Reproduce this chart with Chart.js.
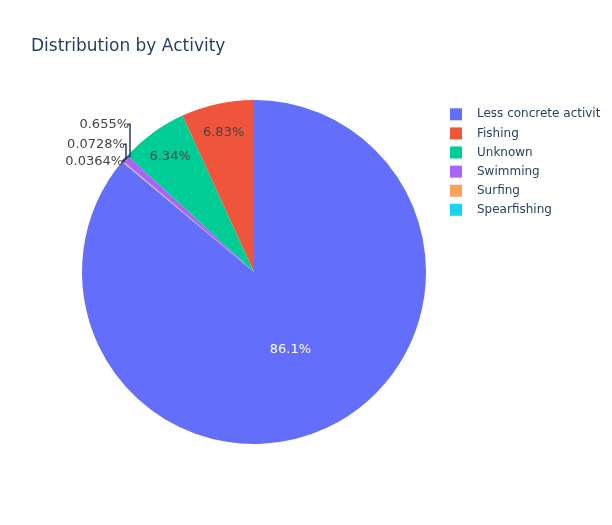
<!DOCTYPE html>
<html>
<head>
<meta charset="utf-8">
<script src="https://cdn.jsdelivr.net/npm/chart.js@4/dist/chart.umd.min.js"></script>
<style>
  body { margin: 0; background: #fff; }
  #wrap { width: 612px; height: 525px; position: relative; }
</style>
</head>
<body>
<div id="wrap"><canvas id="activity-pie"></canvas></div>
<script>
// legend order (as in the reference)
const activities = ['Less concrete activity', 'Fishing', 'Unknown', 'Swimming', 'Surfing', 'Spearfishing'];
const sharePct = [86.1, 6.83, 6.34, 0.655, 0.0728, 0.0364];
const pctLabels = ['86.1%', '6.83%', '6.34%', '0.655%', '0.0728%', '0.0364%'];
const colours = ['#636efa', '#ef553b', '#00cc96', '#ab63fa', '#ffa15a', '#19d3f3'];

// drawing order clockwise from 12 o'clock
const drawOrder = [0, 5, 4, 3, 2, 1];
const outsideSet = [3, 4, 5];

const pieData = drawOrder.map(i => sharePct[i]);
const pieColours = drawOrder.map(i => colours[i]);

const txtColour = '#2a3f5f';
const fontName = '"DejaVu Sans", Verdana, sans-serif';

const labelsPlugin = {
    id: 'pieText',
    afterDatasetsDraw(chart) {
        const ctx = chart.ctx;
        const arcs = chart.getDatasetMeta(0).data;
        ctx.save();
        ctx.font = '13px ' + fontName;
        ctx.textBaseline = 'middle';
        let stack = 0;
        arcs.forEach((arc, k) => {
            const i = drawOrder[k];
            const p = arc.getProps(['x', 'y', 'startAngle', 'endAngle', 'outerRadius'], true);
            const mid = (p.startAngle + p.endAngle) / 2;
            if (outsideSet.includes(i)) {
                const ex = p.x + Math.cos(mid) * p.outerRadius;
                const ey = p.y + Math.sin(mid) * p.outerRadius;
                const ly = ey - stack * 17;
                const lx = ex + 2 + stack * 1.5;
                ctx.strokeStyle = txtColour;
                ctx.lineWidth = 1.5;
                ctx.beginPath();
                ctx.moveTo(ex, ey);
                ctx.lineTo(lx, ey - 2);
                ctx.lineTo(lx, ly);
                ctx.lineTo(lx - 2, ly);
                ctx.stroke();
                ctx.fillStyle = '#444';
                ctx.textAlign = 'right';
                ctx.fillText(pctLabels[i], lx - 1, ly);
                stack++;
            } else {
                const f = i === 0 ? 0.5 : 0.83;
                ctx.fillStyle = i === 0 ? '#ffffff' : '#444';
                ctx.textAlign = 'center';
                ctx.fillText(pctLabels[i], p.x + Math.cos(mid) * p.outerRadius * f,
                                           p.y + Math.sin(mid) * p.outerRadius * f);
            }
        });
        ctx.restore();
    },
    afterDraw(chart) {
        const ctx = chart.ctx;
        ctx.save();
        // title
        ctx.fillStyle = txtColour;
        ctx.font = '17px ' + fontName;
        ctx.textAlign = 'left';
        ctx.textBaseline = 'alphabetic';
        ctx.fillText('Distribution by Activity', 31, 51);
        // legend (text clipped at the right edge like the reference)
        ctx.beginPath();
        ctx.rect(440, 95, 160, 140);
        ctx.clip();
        ctx.font = '12px ' + fontName;
        ctx.textBaseline = 'middle';
        activities.forEach((name, i) => {
            const y = 114.3 + i * 19.1;
            ctx.fillStyle = colours[i];
            ctx.fillRect(450, y - 6, 12, 12);
            ctx.fillStyle = txtColour;
            ctx.fillText(name, 477, y);
        });
        ctx.restore();
    }
};

const ctx_pie = document.getElementById('activity-pie').getContext('2d');
const activityChart = new Chart(ctx_pie, {
    type: 'pie',
    data: {
        labels: drawOrder.map(i => activities[i]),
        datasets: [{
            data: pieData,
            backgroundColor: pieColours,
            borderWidth: 0
        }]
    },
    options: {
        responsive: true,
        maintainAspectRatio: false,
        animation: false,
        layout: {
            padding: { left: 82, right: 186, top: 100, bottom: 81 }
        },
        plugins: {
            legend: { display: false },
            tooltip: { enabled: false }
        }
    },
    plugins: [labelsPlugin]
});
</script>
</body>
</html>
